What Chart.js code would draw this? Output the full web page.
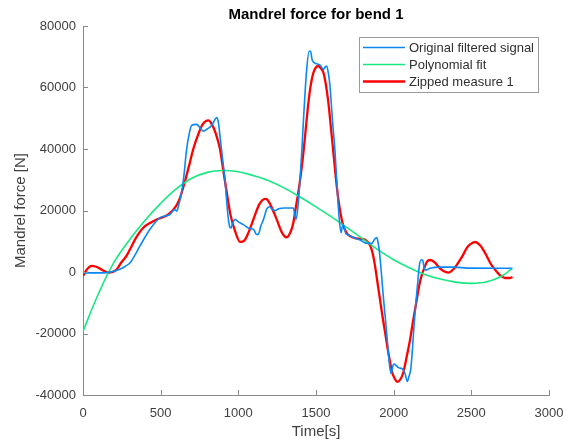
<!DOCTYPE html>
<html>
<head>
<meta charset="utf-8">
<script src="https://cdn.jsdelivr.net/npm/chart.js@4.4.1/dist/chart.umd.min.js"></script>
<style>
  html, body { margin: 0; padding: 0; background: #fff; }
</style>
</head>
<body>
<canvas id="forcechart" width="576" height="443"></canvas>
<script>
// measured signal (time in s, force in N)
const origT = [0, 100, 150, 238, 270, 303, 367, 431, 496, 560, 590, 603, 615, 635, 650, 665, 680, 700,
  732, 755, 775, 800, 829, 852, 861, 872, 882, 898, 914, 925, 936, 945, 953, 963, 979, 1000, 1033, 1075,
  1097, 1118, 1130, 1145, 1162, 1183, 1200, 1220, 1237, 1260, 1300, 1354, 1362, 1372, 1385, 1397, 1408,
  1420, 1440, 1456, 1465, 1475, 1490, 1526, 1548, 1560, 1569, 1580, 1590, 1605, 1623, 1640, 1650, 1661,
  1672, 1680, 1692, 1702, 1741, 1784, 1820, 1860, 1875, 1891, 1900, 1909, 1922, 1935, 1950, 1962, 1975,
  1985, 1995, 2003, 2030, 2058, 2073, 2088, 2098, 2110, 2121, 2131, 2143, 2153, 2165, 2178, 2187, 2198,
  2210, 2234, 2300, 2385, 2490, 2760];
const origF = [-300, -300, -200, 900, 1800, 3000, 8500, 13900, 17700, 18700, 20300, 19800, 21500, 26000,
  31500, 39000, 44000, 47700, 48000, 46800, 45800, 46500, 47700, 49800, 50200, 48500, 44200, 37000, 30100,
  23000, 17100, 14600, 14300, 15800, 17100, 16300, 15400, 14100, 13900, 12200, 12400, 15000, 17100, 20500,
  21200, 20300, 20000, 20600, 20800, 20800, 19000, 17100, 22000, 30000, 38800, 50000, 65900, 71800, 71800,
  69000, 68000, 67300, 65900, 66700, 67000, 64500, 60500, 50000, 38800, 24000, 17100, 12800, 15300, 15000,
  12500, 12200, 11200, 10400, 9400, 9300, 10500, 11200, 9500, 6300, -1000, -8900, -17000, -24000, -31000,
  -33000, -30500, -29900, -31100, -31600, -33000, -35600, -34000, -31600, -25000, -17500, -10000, -4500,
  2000, 4000, 3800, 1000, 600, 1200, 1600, 1600, 1250, 1200];

// polynomial fit of the signal
const polyT = [0, 100, 200, 300, 400, 500, 600, 700, 800, 900, 1000, 1100, 1200, 1300, 1400, 1500,
  1600, 1700, 1800, 1900, 2000, 2100, 2200, 2300, 2400, 2500, 2600, 2700, 2765];
const polyF = [-19300, -7000, 3200, 10500, 16800, 22300, 27000, 30500, 32400, 33000, 32600, 31300,
  29600, 27200, 24300, 21200, 17900, 14400, 10800, 7200, 4000, 1400, -800, -2300, -3300, -3700, -3200,
  -1200, 1300];

// zipped measure 1
const zipT = [0, 25, 56, 85, 109, 140, 165, 190, 217, 245, 281, 303, 340, 388, 440, 474, 549, 600, 625,
  657, 685, 710, 740, 770, 807, 830, 855, 882, 904, 925, 950, 979, 1011, 1040, 1065, 1097, 1135, 1172,
  1185, 1210, 1247, 1280, 1311, 1340, 1354, 1370, 1386, 1403, 1419, 1435, 1451, 1467, 1483, 1500, 1515,
  1530, 1548, 1565, 1580, 1596, 1612, 1628, 1644, 1660, 1676, 1700, 1719, 1750, 1784, 1816, 1848, 1865,
  1880, 1896, 1912, 1928, 1945, 1961, 1977, 1990, 2003, 2024, 2045, 2062, 2084, 2106, 2128, 2149, 2166,
  2182, 2196, 2214, 2234, 2266, 2290, 2320, 2352, 2385, 2415, 2449, 2470, 2492, 2524, 2556, 2578, 2599,
  2620, 2642, 2665, 2685, 2717, 2750, 2765];
const zipF = [-1300, 800, 2000, 1700, 1100, 200, -200, 0, 800, 3000, 5300, 7400, 11000, 14400, 16200,
  17100, 18700, 21500, 24200, 29600, 35000, 40000, 44500, 48000, 49300, 48000, 45000, 40000, 32800, 26000,
  18500, 13300, 9800, 10300, 12800, 17100, 22000, 23800, 23600, 21500, 17100, 12900, 11300, 13500, 16000,
  21000, 25800, 32000, 38800, 47000, 55000, 61000, 64800, 66600, 67000, 66300, 64800, 60500, 55000, 47000,
  38800, 30500, 23600, 18500, 15000, 12500, 11700, 11000, 10800, 10500, 8700, 6000, 2000, -3500, -8900,
  -14400, -19700, -24800, -29400, -32500, -34300, -35700, -34800, -32700, -27500, -21900, -15000, -8900,
  -4000, -750, 1100, 3300, 3900, 3050, 1600, 330, -200, 880, 3000, 5750, 7800, 9000, 9750, 8700, 7100,
  5200, 3100, 1400, 0, -1070, -1950, -1950, -1600];

const xTicks = [0, 500, 1000, 1500, 2000, 2500, 3000];
const yTicks = [-40000, -20000, 0, 20000, 40000, 60000, 80000];

const FONT = '"Liberation Sans", Arial, Helvetica, sans-serif';
const axisColor = '#8a8a8a';
const textColor = '#404040';

function toPoints(ts, fs) {
  return ts.map((t, i) => ({ x: t, y: fs[i] }));
}

// inward tick marks and a boxed legend inside the axes
const matlabAxes = {
  id: 'matlabAxes',
  afterDraw(chart) {
    const ctx = chart.ctx;
    const area = chart.chartArea;
    const xs = chart.scales.x, ys = chart.scales.y;
    ctx.save();
    ctx.strokeStyle = axisColor;
    ctx.lineWidth = 1;
    ctx.beginPath();
    xTicks.forEach(v => {
      const px = Math.round(xs.getPixelForValue(v)) + 0.5;
      ctx.moveTo(px, area.bottom);
      ctx.lineTo(px, area.bottom - 5);
    });
    yTicks.forEach(v => {
      const py = Math.round(ys.getPixelForValue(v)) + 0.5;
      ctx.moveTo(area.left, py);
      ctx.lineTo(area.left + 5, py);
    });
    ctx.stroke();

    // legend
    const bx = 359.5, by = 37.5, bw = 179, bh = 55;
    ctx.fillStyle = '#fff';
    ctx.fillRect(bx, by, bw, bh);
    ctx.strokeStyle = '#9a9a9a';
    ctx.strokeRect(bx, by, bw, bh);
    ctx.font = '13px ' + FONT;
    ctx.textBaseline = 'middle';
    ctx.textAlign = 'left';
    chart.data.datasets.forEach((ds, i) => {
      const ry = 47.5 + i * 17;
      ctx.strokeStyle = ds.borderColor;
      ctx.lineWidth = ds.borderWidth;
      ctx.beginPath();
      ctx.moveTo(363, ry);
      ctx.lineTo(405, ry);
      ctx.stroke();
      ctx.fillStyle = '#303030';
      ctx.fillText(ds.label, 409, ry + 0.5);
    });
    ctx.restore();
  }
};

new Chart(document.getElementById('forcechart'), {
  type: 'line',
  data: {
    datasets: [
      {
        label: 'Original filtered signal',
        data: toPoints(origT, origF),
        borderColor: '#0a88f5',
        borderWidth: 1.6,
        cubicInterpolationMode: 'monotone'
      },
      {
        label: 'Polynomial fit',
        data: toPoints(polyT, polyF),
        borderColor: '#17e882',
        borderWidth: 1.6,
        tension: 0.4
      },
      {
        label: 'Zipped measure 1',
        data: toPoints(zipT, zipF),
        borderColor: '#ff0000',
        borderWidth: 2.3,
        cubicInterpolationMode: 'monotone'
      }
    ]
  },
  options: {
    responsive: false,
    animation: false,
    devicePixelRatio: 1,
    layout: { padding: { left: 0, right: 27, top: 0, bottom: 0 } },
    elements: { point: { radius: 0 } },
    plugins: {
      legend: { display: false },
      tooltip: { enabled: false },
      title: {
        display: true,
        text: 'Mandrel force for bend 1',
        fullSize: false,
        color: '#000',
        font: { family: FONT, size: 15, weight: 'bold' },
        padding: { top: 6, bottom: 2 }
      }
    },
    scales: {
      x: {
        type: 'linear',
        min: 0,
        max: 3000,
        afterFit(scale) { scale.height = 48; },
        afterBuildTicks(scale) { scale.ticks = xTicks.map(v => ({ value: v })); },
        grid: { display: true, drawOnChartArea: false, drawTicks: false },
        border: { display: true, color: axisColor, width: 1 },
        ticks: {
          color: textColor,
          padding: 11,
          maxRotation: 0,
          font: { family: FONT, size: 13 },
          callback: v => String(v)
        },
        title: {
          display: true,
          text: 'Time[s]',
          color: textColor,
          font: { family: FONT, size: 15 },
          padding: { top: 0, bottom: 2 }
        }
      },
      y: {
        type: 'linear',
        min: -40000,
        max: 80000,
        afterFit(scale) { scale.width = 83; },
        afterBuildTicks(scale) { scale.ticks = yTicks.map(v => ({ value: v })); },
        grid: { display: true, drawOnChartArea: false, drawTicks: false },
        border: { display: true, color: axisColor, width: 1 },
        ticks: {
          color: textColor,
          padding: 7,
          font: { family: FONT, size: 13 },
          callback: v => String(v)
        },
        title: {
          display: true,
          text: 'Mandrel force [N]',
          color: textColor,
          font: { family: FONT, size: 15 },
          padding: { top: 12, bottom: 0 }
        }
      }
    }
  },
  plugins: [matlabAxes]
});
</script>
</body>
</html>
